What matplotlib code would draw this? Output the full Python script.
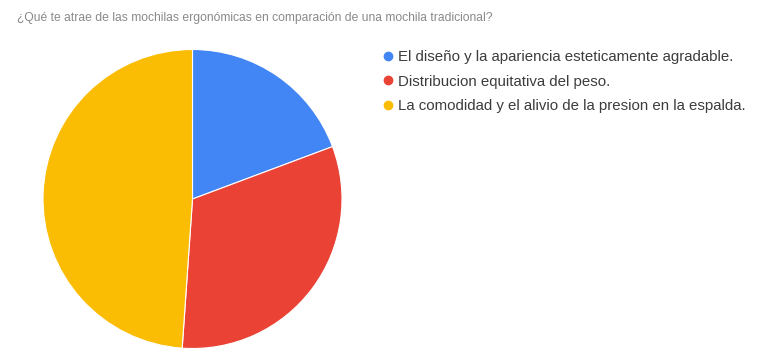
import matplotlib
matplotlib.use("Agg")
import matplotlib.pyplot as plt
from matplotlib.lines import Line2D

title = "¿Qué te atrae de las mochilas ergonómicas en comparación de una mochila tradicional?"
categories = [
    "El diseño y la apariencia esteticamente agradable.",
    "Distribucion equitativa del peso.",
    "La comodidad y el alivio de la presion en la espalda.",
]
values = [19.3, 31.8, 48.9]
colors = ["#4285F4", "#EA4335", "#FBBC04"]

plt.rcParams['font.family'] = ['Liberation Sans', 'DejaVu Sans']

W, H = 757, 363
fig = plt.figure(figsize=(W / 100, H / 100), dpi=100)
fig.patch.set_facecolor("white")

cx, cy, r = 192.5, 199, 149.5
ax = fig.add_axes([(cx - r) / W, (H - cy - r) / H, 2 * r / W, 2 * r / H])
ax.pie(values, colors=colors, startangle=90, counterclock=False,
       wedgeprops=dict(edgecolor="white", linewidth=0.8))
ax.set_xlim(-1, 1)
ax.set_ylim(-1, 1)
ax.set_aspect("equal")
ax.axis("off")

fig.text(17 / W, 1 - 17.5 / H, title, ha="left", va="center",
         fontsize=8.75, color="#8a8a8a")

handles = [Line2D([0], [0], marker="o", linestyle="none", markersize=6,
                  markerfacecolor=c, markeredgecolor=c) for c in colors]
fig.legend(handles, categories, loc="upper left",
           bbox_to_anchor=(383 / W, 1 - 50.5 / H), frameon=False,
           fontsize=10.8, labelspacing=0.68, handlelength=0.6,
           handletextpad=0.42, borderaxespad=0, borderpad=0,
           labelcolor="#3c3c3c")

fig.savefig("out.png", dpi=100, facecolor="white")
